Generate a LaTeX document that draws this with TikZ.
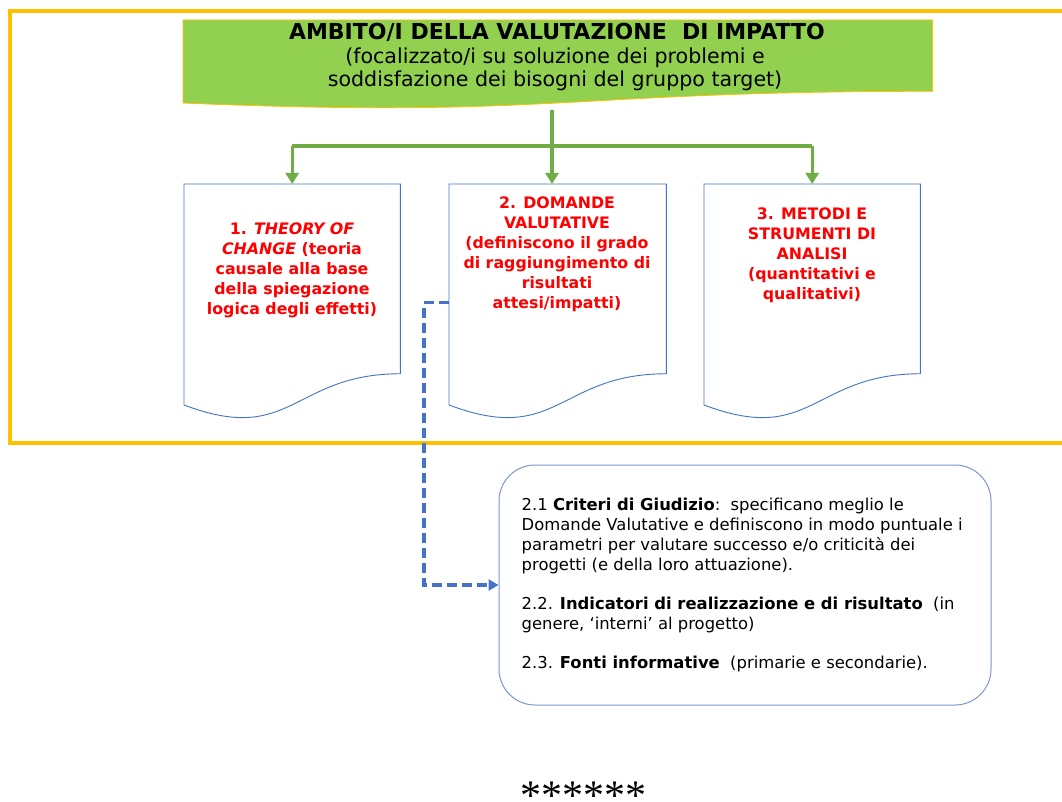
\documentclass[tikz,border=0pt]{standalone}
\usepackage{fontspec}
\setmainfont{DejaVu Sans}
\newfontfamily\starfont{Liberation Serif}
\usetikzlibrary{arrows.meta}
\definecolor{frameyellow}{HTML}{FFC000}
\definecolor{bannergreen}{HTML}{92D050}
\definecolor{arrowgreen}{HTML}{70AD47}
\definecolor{docblue}{HTML}{4472C4}
\definecolor{roundblue}{HTML}{7F97CB}
\definecolor{textred}{HTML}{FF0000}
\tikzset{
  frame/.style={frameyellow, line width=4pt},
  anchorbox/.style={draw=none, inner sep=0pt, anchor=north west},
  docline/.style={docblue, line width=0.9pt, fill=white},
  bannerline/.style={draw=frameyellow, line width=0.8pt, fill=bannergreen},
  titletext/.style={font=\fontsize{22}{26}\selectfont\bfseries, inner sep=0pt, anchor=base},
  subtext/.style={font=\fontsize{20.6}{23}\selectfont, inner sep=0pt, anchor=base},
  gline/.style={arrowgreen, line width=3.2pt},
  garrow/.style={gline, -{Triangle[width=13pt,length=11pt]}},
  bluedash/.style={docblue, line width=3.4pt, dash pattern=on 10pt off 5pt, -{Triangle[width=11pt,length=10pt]}},
  redtext/.style={text=textred, font=\fontsize{15.8}{20}\selectfont\bfseries, align=center, inner sep=0pt},
  rbox/.style={draw=roundblue, line width=1pt, rounded corners=36pt, minimum width=492pt, minimum height=240pt, fill=white},
  bodytext/.style={font=\fontsize{16.4}{20}\selectfont, align=left, inner sep=0pt, anchor=west}
}
% document-shape outline around an anchor node: #1 name, #2 width, #3 height, #4 style
\newcommand\docoutline[4]{%
  \pgfmathsetmacro\dA{-0.802*#3}%
  \pgfmathsetmacro\dB{-1.1075*#3}%
  \pgfmathsetmacro\dC{-0.934*#3}%
  \pgfmathsetmacro\dW{-0.5*#2}%
  \draw[#4] (#1.north west) -- (#1.north east) -- ([yshift=\dA pt]#1.north east)
    .. controls ([xshift=\dW pt,yshift=\dA pt]#1.north east) and ([xshift=\dW pt,yshift=\dB pt]#1.north east)
    .. ([yshift=\dC pt]#1.north west) -- cycle;}
\begin{document}
\begin{tikzpicture}[x=1pt,y=-1pt]
\useasboundingbox (0,0) rectangle (1062,802);
\fill[white] (0,0) rectangle (1062,802);

% outer frame
\draw[frame] (10,11) rectangle (1080,443);

% banner
\node[anchorbox, minimum width=749pt, minimum height=88.9pt] (ban) at (183,20) {};
\docoutline{ban}{749}{88.9}{bannerline}
\node[titletext] (title) at (557,40) {AMBITO/I DELLA VALUTAZIONE\ \ DI IMPATTO};
\node[subtext] (sub1) at (555,64) {(focalizzato/i su soluzione dei problemi e};
\node[subtext] (sub2) at (555,87) {soddisfazione dei bisogni del gruppo target)};

% document boxes
\node[anchorbox, minimum width=216pt, minimum height=236.6pt] (b1) at (184,184) {};
\node[anchorbox, minimum width=217pt, minimum height=236.6pt] (b2) at (449,184) {};
\node[anchorbox, minimum width=216pt, minimum height=236.6pt] (b3) at (704,184) {};
\docoutline{b1}{216}{236.6}{docline}
\docoutline{b2}{217}{236.6}{docline}
\docoutline{b3}{216}{236.6}{docline}

\node[redtext] (t1) at (292,270)
  {1. \textit{THEORY OF}\\ \textit{CHANGE} (teoria\\ causale alla base\\ della spiegazione\\ logica degli effetti)};
\node[redtext] (t2) at (557,254)
  {2. DOMANDE\\ VALUTATIVE\\ (definiscono il grado\\ di raggiungimento di\\ risultati\\ attesi/impatti)};
\node[redtext] (t3) at (812,255)
  {3. METODI E\\ STRUMENTI DI\\ ANALISI\\ (quantitativi e\\ qualitativi)};

% green connectors
\coordinate (trunk) at (552,110);
\coordinate (split) at (552,146);
\draw[gline] (b1.north |- split) -- (b3.north |- split);
\draw[garrow] (trunk) -- (trunk |- b2.north);
\draw[garrow] (b1.north |- split) -- (b1.north);
\draw[garrow] (b3.north |- split) -- (b3.north);

% rounded box
\node[rbox] (rb) at (745,585) {};
\node[bodytext] (rt) at ([xshift=23pt]rb.west)
  {2.1 \textbf{Criteri di Giudizio}:\ \ specificano meglio le\\
   Domande Valutative e definiscono in modo puntuale i\\
   parametri per valutare successo e/o criticità dei\\
   progetti (e della loro attuazione).\\[19pt]
   2.2. \textbf{Indicatori di realizzazione e di risultato}\ \ (in\\
   genere, ‘interni’ al progetto)\\[19pt]
   2.3. \textbf{Fonti informative}\ \ (primarie e secondarie).};

% dashed connector
\draw[bluedash] (b2.west) -- ++(-25,0) |- (rb.west);

% stars
\node[font=\starfont\fontsize{42}{42}\selectfont, anchor=base, inner sep=0pt] (stars) at (583,809) {******};
\end{tikzpicture}
\end{document}
